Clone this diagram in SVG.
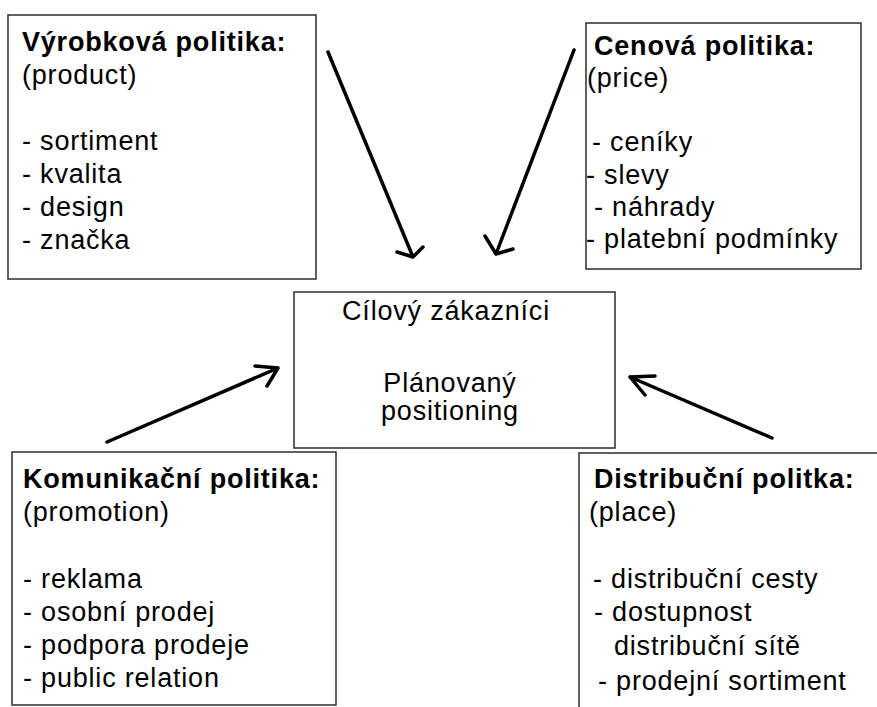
<svg xmlns="http://www.w3.org/2000/svg" width="877" height="707" viewBox="0 0 877 707">
<style>
.box{fill:#fff;stroke:#3a3a3a;stroke-width:1.6}
text{font-family:"Liberation Sans",Arial,sans-serif;font-size:27px;letter-spacing:0.8px;fill:#000}
.t{font-weight:bold}
.c{text-anchor:middle}
.ar{fill:none;stroke:#000;stroke-width:3.5;stroke-linecap:round;stroke-linejoin:round}
</style>
<rect width="877" height="707" fill="#fff"/>
<g id="product">
<rect class="box" x="8" y="15" width="308" height="264"/>
<text class="t" x="22" y="51">Výrobková politika:</text>
<text x="22" y="84">(product)</text>
<text x="22" y="150">- sortiment</text>
<text x="22" y="183">- kvalita</text>
<text x="22" y="216">- design</text>
<text x="22" y="249">- značka</text>
</g>
<g id="price">
<rect class="box" x="586" y="23" width="275" height="246"/>
<text class="t" x="594" y="55">Cenová politika:</text>
<text x="587" y="87">(price)</text>
<text x="592" y="151">- ceníky</text>
<text x="586" y="184">- slevy</text>
<text x="594" y="216">- náhrady</text>
<text x="586" y="248">- platební podmínky</text>
</g>
<g id="center">
<rect class="box" x="294" y="292" width="321" height="156"/>
<text class="c" x="446" y="320">Cílový zákazníci</text>
<text class="c" x="450" y="392">Plánovaný</text>
<text class="c" x="450" y="420">positioning</text>
</g>
<g id="promotion">
<rect class="box" x="12" y="452" width="324" height="253"/>
<text class="t" x="23" y="488">Komunikační politika:</text>
<text x="23" y="521">(promotion)</text>
<text x="23" y="588">- reklama</text>
<text x="23" y="621">- osobní prodej</text>
<text x="23" y="654">- podpora prodeje</text>
<text x="23" y="687">- public relation</text>
</g>
<g id="place">
<rect class="box" x="579" y="453" width="310" height="262"/>
<text class="t" x="594" y="488">Distribuční politka:</text>
<text x="589" y="521">(place)</text>
<text x="593" y="588">- distribuční cesty</text>
<text x="594" y="621">- dostupnost</text>
<text x="614" y="655">distribuční sítě</text>
<text x="598" y="690">- prodejní sortiment</text>
</g>
<g id="connectors">
<path class="ar" d="M328 52 L413 257 M397 252 L413 257 L423 247"/>
<path class="ar" d="M574 50 L496 254 M485 236 L496 254 L513 249"/>
<path class="ar" d="M107 442 L278 368 M255 366 L278 368 L267 386"/>
<path class="ar" d="M772 438 L630 377 M655 376 L630 377 L645 395"/>
</g>
</svg>
